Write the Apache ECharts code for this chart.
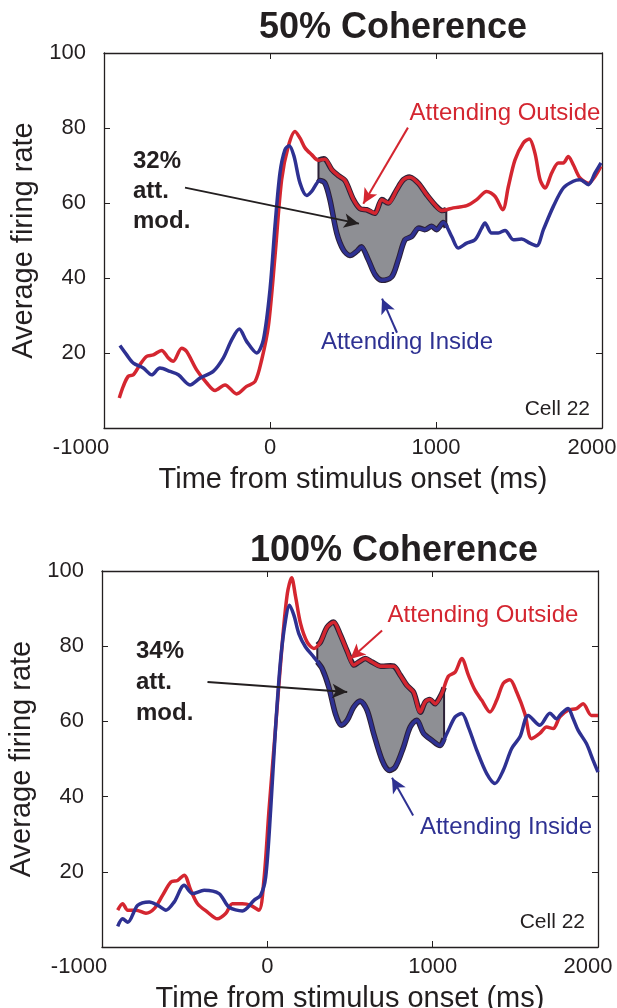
<!DOCTYPE html>
<html><head><meta charset="utf-8">
<script src="https://cdn.jsdelivr.net/npm/echarts@6/dist/echarts.min.js"></script>
<style>html,body{margin:0;padding:0;background:#fff}#c{width:617px;height:1008px}</style>
</head><body><div id="c"></div>
<script>
// ---------- data ----------
const xTicks = [-1000, 0, 1000, 2000];
const yTicks = [20, 40, 60, 80, 100];
const titles = ['50% Coherence', '100% Coherence'];
const modLabels = ['32%\natt.\nmod.', '34%\natt.\nmod.'];
const outsideLabel = 'Attending Outside';
const insideLabel = 'Attending Inside';
const cellLabel = 'Cell 22';
const xName = 'Time from stimulus onset (ms)';
const yName = 'Average firing rate';

// 50% coherence
const top_outside = [[-908,8],[-884,11.1],[-854,13.8],[-823,14.2],[-783,16.9],[-743,19.1],[-703,19.5],[-653,20.7],[-613,18.7],[-583,17.8],[-532,21.3],[-502,20.4],[-442,15.5],[-381,12],[-331,10],[-271,11.5],[-201,9.1],[-141,11.1],[-90,12.4],[-50,18.2],[-10,27.1],[30,45.8],[70,66.2],[110,75.1],[151,79.1],[181,77.3],[211,74.7],[251,72.9],[291,71.4],[331,71.7],[372,68.9],[412,67.3],[452,66],[502,61],[542,58.5],[582,58.2],[633,57.3],[673,60.9],[713,60],[763,63.5],[803,66.2],[843,66.9],[893,65.3],[944,62.2],[994,59.5],[1034,58],[1104,58.7],[1185,59.3],[1245,60.9],[1305,63.1],[1355,61.8],[1402,58.2],[1436,64.4],[1476,71.5],[1526,76],[1562,77.1],[1596,73.3],[1627,66.2],[1657,64],[1697,68],[1737,70.7],[1767,70.7],[1797,72.4],[1827,70.2],[1867,66.7],[1918,65.3],[1958,67.1],[1994,69.8]];
const top_inside = [[-904,22],[-863,19.5],[-823,17.3],[-763,16],[-713,14.2],[-663,16],[-602,15.1],[-552,14.2],[-482,11.5],[-422,13.3],[-342,15.1],[-281,18.7],[-231,23.5],[-185,26.4],[-141,23.1],[-80,20],[-40,23.5],[0,36.9],[30,53.8],[60,68],[90,74.2],[116,75.3],[145,72.4],[181,65.3],[221,62],[251,63.1],[301,66],[331,65.3],[361,60.9],[402,52],[442,47.5],[482,46],[522,47.1],[552,48.3],[592,44.9],[633,40.9],[673,39.4],[733,40.3],[773,44.9],[813,50.2],[854,51.1],[893,53.3],[934,52.9],[974,53.8],[1004,52.9],[1044,54.8],[1094,51.1],[1134,48],[1185,49.3],[1235,50.2],[1275,53.3],[1295,54.7],[1335,52],[1375,52],[1416,52.7],[1466,50.2],[1516,50.4],[1566,49.3],[1607,48.6],[1647,52.9],[1707,59.1],[1767,64],[1827,65.8],[1867,66.2],[1918,64.9],[1958,68],[1994,70.7]];

// 100% coherence
const bot_outside = [[-905,9.8],[-875,11.5],[-844,9.8],[-794,9.8],[-734,9],[-684,10.2],[-633,13.8],[-583,17.3],[-543,17.7],[-503,19.1],[-463,15.1],[-422,11.5],[-362,9.3],[-302,7.5],[-252,8.9],[-211,11.5],[-151,11.5],[-101,11.1],[-51,9.8],[-21,17.7],[10,36.4],[50,58.5],[90,80.7],[121,94],[147,98.2],[171,93.1],[201,86],[241,81.1],[281,79.4],[321,81.1],[362,85.1],[402,86.4],[442,83],[483,78.7],[523,75],[553,75.8],[593,76.7],[633,75.8],[683,74.7],[764,74.7],[804,72.3],[844,69.6],[884,67.8],[925,62.5],[955,65.2],[985,65.8],[1015,64.7],[1055,67.4],[1095,72],[1136,73.1],[1176,76.7],[1216,72.3],[1256,68.3],[1297,65.6],[1347,62.5],[1387,65.6],[1427,70.1],[1467,71.1],[1508,67.8],[1558,62],[1598,55.4],[1648,56.8],[1689,58.5],[1729,58.1],[1769,61.2],[1819,63],[1870,63.4],[1910,64.7],[1960,61.6],[2000,61.6]];
const bot_inside = [[-905,5.5],[-875,7.5],[-844,6.6],[-784,11.1],[-714,12],[-663,11.1],[-613,9.8],[-563,12],[-503,16.4],[-452,14.2],[-382,15.1],[-292,14.2],[-232,10.6],[-151,9.6],[-81,12.4],[-40,13.8],[-10,18.6],[20,36.4],[50,58.5],[80,76.3],[110,86.9],[134,90.9],[161,88.2],[191,83.3],[231,79.8],[281,77.1],[332,74],[372,69.1],[412,62],[446,59],[483,60.3],[522,63.8],[563,65.4],[603,63],[643,56.8],[694,49.7],[734,47],[774,47.9],[824,53.2],[864,58.5],[905,60.3],[945,56.8],[995,55],[1045,53.6],[1086,56.8],[1136,61.2],[1176,62.1],[1216,58.5],[1267,52.3],[1327,46.1],[1377,43.5],[1427,47],[1478,52.8],[1528,55.9],[1578,61.6],[1648,59],[1709,62.2],[1749,60.7],[1779,62.1],[1819,63.4],[1850,60.7],[1880,57.6],[1930,54.1],[1970,49.7],[2000,46.5]];

// attention-modulation window (ms)
const top_window = [292, 1062];
const bot_window = [302, 1069];

// annotation arrows [tail, head] in data units
const top_arrows = { black: [[-512,64.1],[536,54.5]], red: [[831,80.1],[562,59.8]], blue: [[765,25.4],[675,34.5]] };
const bot_arrows = { black: [[-362,70.5],[483,67.8]], red: [[694,84.2],[502,76.6]], blue: [[882,35],[754,45]] };

// ---------- helpers ----------
const RED = '#d42630', BLUE = '#2e3192', INK = '#231f20', FILL = '#8e8f94', EDGE = '#2c2036';
const FONT = '"Liberation Sans", Arial, Helvetica, sans-serif';

function interp(arr, x) {
  for (let i = 0; i < arr.length - 1; i++) {
    if (arr[i][0] <= x && arr[i + 1][0] >= x) {
      const t = (x - arr[i][0]) / (arr[i + 1][0] - arr[i][0]);
      return arr[i][1] + t * (arr[i + 1][1] - arr[i][1]);
    }
  }
  return arr[arr.length - 1][1];
}
function bandParts(outside, inside, w) {
  const a = [w[0], interp(outside, w[0])], b = [w[1], interp(outside, w[1])];
  const c = [w[0], interp(inside, w[0])], d = [w[1], interp(inside, w[1])];
  const up = [a].concat(outside.filter(p => p[0] > w[0] && p[0] < w[1]), [b]);
  const lo = [c].concat(inside.filter(p => p[0] > w[0] && p[0] < w[1]), [d]);
  return { up, lo };
}

const grids = [
  { left: 104, top: 53, width: 498, height: 375, outerBoundsMode: 'none', containLabel: false },
  { left: 102, top: 571, width: 496, height: 376, outerBoundsMode: 'none', containLabel: false }
];
const panels = [
  { out: top_outside, ins: top_inside, win: top_window, arrows: top_arrows },
  { out: bot_outside, ins: bot_inside, win: bot_window, arrows: bot_arrows }
];

const xAxes = [], yAxes = [], series = [];
panels.forEach((p, i) => {
  const axLine = { show: true, onZero: false, lineStyle: { color: INK, width: 1.3 } };
  const tick = { show: true, inside: true, length: 6, lineStyle: { color: INK, width: 1 } };
  xAxes.push({
    type: 'value', gridIndex: i, position: 'bottom', min: xTicks[0], max: xTicks[xTicks.length - 1], interval: 1000,
    axisLine: axLine, axisTick: tick, splitLine: { show: false },
    axisLabel: {
      color: INK, fontSize: 22, fontFamily: FONT, margin: 9,
      formatter: v => v === xTicks[0] ? '{mn|' + v + '}' : (v === xTicks[xTicks.length - 1] ? '{mx|' + v + '}' : (xTicks.includes(v) ? String(v) : '')),
      rich: {
        mn: { fontSize: 22, fontFamily: FONT, color: INK, padding: [0, 46, 0, 0] },
        mx: { fontSize: 22, fontFamily: FONT, color: INK, padding: [0, 20, 0, 0] }
      }
    },
    name: xName, nameLocation: 'middle', nameGap: 37,
    nameTextStyle: { color: INK, fontSize: 29, fontFamily: FONT }
  });
  xAxes.push({
    type: 'value', gridIndex: i, position: 'top', min: xTicks[0], max: xTicks[xTicks.length - 1], interval: 1000,
    axisLine: axLine, axisTick: tick, splitLine: { show: false }, axisLabel: { show: false }
  });
  yAxes.push({
    type: 'value', gridIndex: i, position: 'left', min: 0, max: 100, interval: 20,
    axisLine: axLine, axisTick: tick, splitLine: { show: false },
    axisLabel: { color: INK, fontSize: 22, fontFamily: FONT, margin: 18, formatter: v => yTicks.includes(v) ? String(v) : '' },
    name: yName, nameLocation: 'middle', nameGap: 52, nameRotate: 90,
    nameTextStyle: { color: INK, fontSize: 29, fontFamily: FONT }
  });
  yAxes.push({
    type: 'value', gridIndex: i, position: 'right', min: 0, max: 100, interval: 20,
    axisLine: axLine, axisTick: tick, splitLine: { show: false }, axisLabel: { show: false }
  });
  const parts = bandParts(p.out, p.ins, p.win);
  series.push({
    type: 'custom', xAxisIndex: 2 * i, yAxisIndex: 2 * i, z: 1, silent: true,
    data: [0],
    renderItem: (params, api) => {
      const up = parts.up.map(pt => api.coord(pt));
      const lo = parts.lo.map(pt => api.coord(pt));
      const fillPts = [up[0]].concat(up, [up[up.length - 1]], [lo[lo.length - 1]], lo.slice().reverse(), [lo[0]]);
      return {
        type: 'group',
        children: [
          { type: 'polygon', shape: { points: fillPts, smooth: 0.3 }, style: { fill: FILL, stroke: null } },
          { type: 'polyline', shape: { points: up, smooth: 0.3 }, style: { fill: null, stroke: EDGE, lineWidth: 5.5 } },
          { type: 'polyline', shape: { points: lo, smooth: 0.3 }, style: { fill: null, stroke: EDGE, lineWidth: 5.5 } },
          { type: 'line', shape: { x1: up[0][0], y1: up[0][1], x2: lo[0][0], y2: lo[0][1] }, style: { stroke: EDGE, lineWidth: 2 } },
          { type: 'line', shape: { x1: up[up.length - 1][0], y1: up[up.length - 1][1], x2: lo[lo.length - 1][0], y2: lo[lo.length - 1][1] }, style: { stroke: EDGE, lineWidth: 2 } }
        ]
      };
    }
  });
  series.push({
    type: 'line', xAxisIndex: 2 * i, yAxisIndex: 2 * i, z: 3, data: p.out, smooth: 0.3,
    showSymbol: false, symbol: 'none', lineStyle: { color: RED, width: 3.5 }
  });
  const mk = (pair, color) => [{ coord: pair[0], lineStyle: { color: color, width: 2, type: 'solid' } }, { coord: pair[1] }];
  series.push({
    type: 'line', xAxisIndex: 2 * i, yAxisIndex: 2 * i, z: 4, data: p.ins, smooth: 0.3,
    showSymbol: false, symbol: 'none', lineStyle: { color: BLUE, width: 3.5 },
    markLine: {
      silent: true, symbol: ['none', 'arrow'], symbolSize: [11, 15], label: { show: false },
      lineStyle: { width: 2, type: 'solid' },
      data: [mk(p.arrows.black, INK), mk(p.arrows.red, RED), mk(p.arrows.blue, BLUE)]
    }
  });
});

const txt = (x, y, text, size, color, bold, align, extra) => ({
  type: 'text', x: x, y: y, silent: true,
  style: Object.assign({
    text: text, fill: color, fontSize: size, fontWeight: bold ? 'bold' : 'normal', fontFamily: FONT,
    textAlign: align, align: align, textVerticalAlign: 'middle', verticalAlign: 'middle'
  }, extra || {})
});

const graphics = [
  txt(393, 28, titles[0], 36, INK, true, 'center'),
  txt(394, 551, titles[1], 36, INK, true, 'center'),
  txt(133, 146, modLabels[0], 24, INK, true, 'left', { lineHeight: 30, verticalAlign: 'top', textVerticalAlign: 'top' }),
  txt(136, 636, modLabels[1], 24, INK, true, 'left', { lineHeight: 31, verticalAlign: 'top', textVerticalAlign: 'top' }),
  txt(505, 113, outsideLabel, 24, RED, false, 'center'),
  txt(407, 342, insideLabel, 24, BLUE, false, 'center'),
  txt(590, 409, cellLabel, 21, INK, false, 'right'),
  txt(483, 615, outsideLabel, 24, RED, false, 'center'),
  txt(506, 827, insideLabel, 24, BLUE, false, 'center'),
  txt(585, 922, cellLabel, 21, INK, false, 'right')
];

const chart = echarts.init(document.getElementById('c'), null, { renderer: 'canvas' });
chart.setOption({
  animation: false,
  backgroundColor: '#fff',
  grid: grids,
  xAxis: xAxes,
  yAxis: yAxes,
  series: series,
  graphic: graphics
});
</script>
</body></html>
